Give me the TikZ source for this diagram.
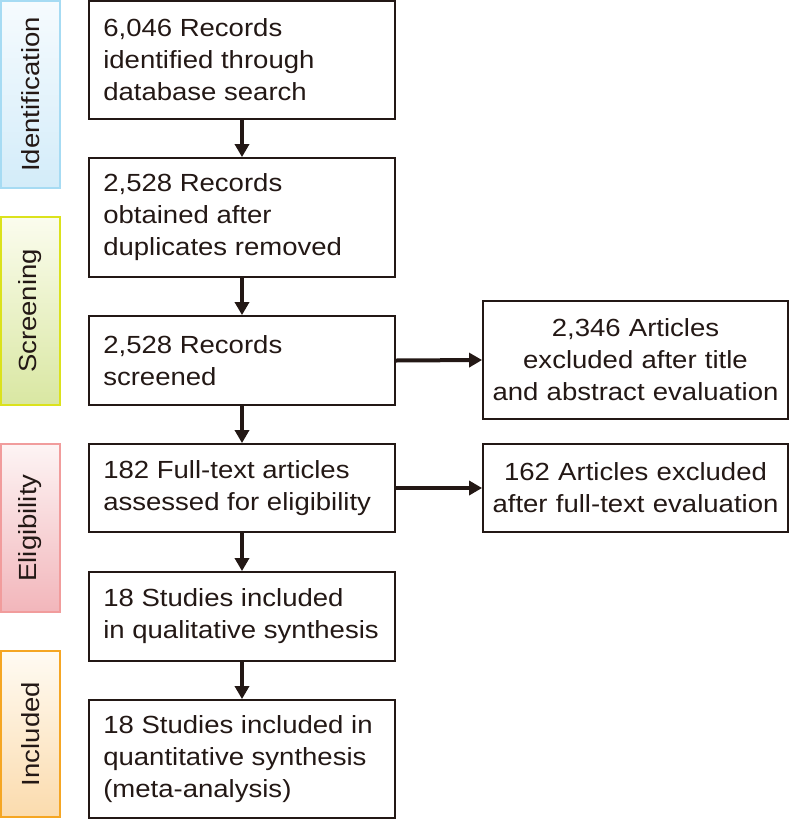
\documentclass[tikz,border=0pt]{standalone}
\usepackage{fontspec}
\setmainfont{Liberation Sans}[FakeStretch=1.11]
\usetikzlibrary{arrows.meta}
\definecolor{ink}{HTML}{231815}
\definecolor{idB}{HTML}{A6DBF3}\definecolor{idT}{HTML}{F6FBFE}\definecolor{idL}{HTML}{D3ECF9}
\definecolor{scB}{HTML}{DBE21C}\definecolor{scT}{HTML}{FBFCEE}\definecolor{scL}{HTML}{D9E7A2}
\definecolor{elB}{HTML}{F19C9C}\definecolor{elT}{HTML}{FDF4F4}\definecolor{elL}{HTML}{F2B6BB}
\definecolor{inB}{HTML}{F5A623}\definecolor{inT}{HTML}{FFFBF3}\definecolor{inL}{HTML}{FBDBAD}
\begin{document}
\begin{tikzpicture}[x=1pt,y=-1pt,
  every node/.style={font=\fontsize{24.8}{32}\selectfont, text=ink},
  mainbox/.style={draw=ink, line width=1.8pt, minimum width=306pt, inner sep=0pt},
  boxtext/.style={anchor=west, inner sep=0pt, align=left},
  sidebox/.style={draw=ink, line width=1.8pt, minimum width=305pt, text width=295pt,
    inner xsep=5pt, inner ysep=0pt, align=center},
  stagebar/.style={line width=1.6pt, inner sep=0pt, rotate=90, shading angle=90},
  flow/.style={draw=ink, line width=4pt, -{Triangle[length=13pt,width=14pt]}}
]
\useasboundingbox (0,0) rectangle (790,820);
% stage bars
\node[stagebar, draw=idB, top color=idT, bottom color=idL, minimum height=59pt, minimum width=187pt] (sId) at (30.5,94.5) {Identification};
\node[stagebar, draw=scB, top color=scT, bottom color=scL, minimum height=59pt, minimum width=188pt] (sSc) at (30.5,311) {Screening};
\node[stagebar, draw=elB, top color=elT, bottom color=elL, minimum height=59pt, minimum width=168pt] (sEl) at (30.5,528) {Eligibility};
\node[stagebar, draw=inB, top color=inT, bottom color=inL, minimum height=59pt, minimum width=166pt] (sIn) at (30.5,734) {Included};
% main boxes
\node[mainbox, minimum height=118pt] (b1) at (242,60) {};
\node[mainbox, minimum height=119pt] (b2) at (242,217.5) {};
\node[mainbox, minimum height=89pt] (b3) at (242,360.5) {};
\node[mainbox, minimum height=88pt] (b4) at (242,488) {};
\node[mainbox, minimum height=89pt] (b5) at (242,616.5) {};
\node[mainbox, minimum height=118pt] (b6) at (242,759) {};
\node[boxtext] (t1) at ([xshift=15pt]b1.west) {6,046 Records\\identified through\\database search};
\node[boxtext] (t2) at ([xshift=15pt]b2.west) {2,528 Records\\obtained after\\duplicates removed};
\node[boxtext] (t3) at ([xshift=15pt]b3.west) {2,528 Records\\screened};
\node[boxtext] (t4) at ([xshift=15pt]b4.west) {182 Full-text articles\\assessed for eligibility};
\node[boxtext] (t5) at ([xshift=15pt]b5.west) {18 Studies included\\in qualitative synthesis};
\node[boxtext] (t6) at ([xshift=15pt]b6.west) {18 Studies included in\\quantitative synthesis\\(meta-analysis)};
% exclusion boxes
\node[sidebox, minimum height=118pt] (r1) at (635.5,360) {2,346 Articles\\excluded after title\\and abstract evaluation};
\node[sidebox, minimum height=88pt] (r2) at (635.5,488) {162 Articles excluded\\after full-text evaluation};
% connectors
\draw[flow] (b1) -- (b2);
\draw[flow] (b2) -- (b3);
\draw[flow] (b3) -- (b4);
\draw[flow] (b4) -- (b5);
\draw[flow] (b5) -- (b6);
\draw[flow] (b3.east) -- (r1.west);
\draw[flow] (b4.east) -- (r2.west);
\end{tikzpicture}
\end{document}
